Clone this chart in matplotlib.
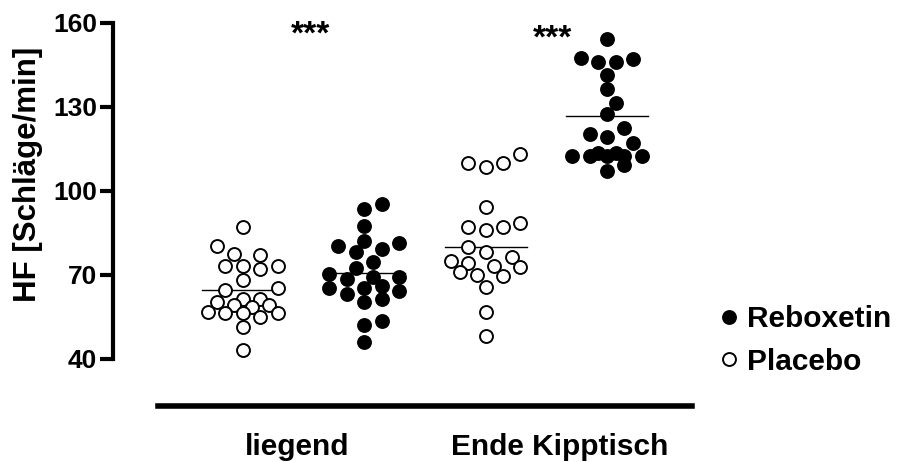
import numpy as np
import matplotlib.pyplot as plt
from matplotlib.lines import Line2D

plt.rcParams["font.family"] = ["Liberation Sans", "DejaVu Sans"]
plt.rcParams["font.weight"] = "bold"

# values (HF in beats/min)
categories = ["liegend", "Ende Kipptisch"]
series_names = ["Reboxetin", "Placebo"]

placebo_liegend = [87.3, 80.4, 77.1, 77.4, 73.2, 72.1, 73.2, 73.2, 68.2, 64.6, 65.2, 61.4,
                   61.4, 60.5, 59.3, 58.5, 59.3, 56.3, 56.9, 55.1, 56.3, 56.3, 51.3, 43.2]
reboxetin_liegend = [95.4, 93.5, 87.5, 82.1, 80.5, 81.5, 79.2, 78.3, 74.5, 70.2, 72.4, 69.2,
                     68.5, 69.2, 66.2, 65.5, 65.2, 64.4, 63.2, 61.4, 60.5, 53.7, 52.1, 46.2]
placebo_ende = [113.2, 110.1, 108.5, 110.1, 94.2, 87.0, 87.0, 88.7, 86.1, 80.1, 78.3,
                75.1, 76.5, 73.2, 70.0, 72.7, 74.2, 69.6, 71.2, 65.8, 56.9, 48.2]
reboxetin_ende = [154.2, 147.0, 146.2, 146.2, 147.4, 141.4, 136.3, 131.5, 127.4, 122.4, 119.4,
                  120.4, 117.3, 112.5, 113.5, 112.5, 112.5, 112.5, 113.5, 112.5, 109.3, 107.3]
group_means = [64.5, 70.6, 79.9, 126.9]
significance = ["***", "***"]
yticks = [40, 70, 100, 130, 160]

groups = [placebo_liegend, reboxetin_liegend, placebo_ende, reboxetin_ende]
filled = [False, True, False, True]

W, H = 901, 462
fig = plt.figure(figsize=(W / 100, H / 100), dpi=100)
ax = fig.add_axes([113 / W, 1 - 359 / H, 579 / W, 336 / H])
ax.set_xlim(-1.07, 3.70)
ax.set_ylim(40, 160)

# pixel scale, used to lay the points out as a swarm
px_x = 579 / (3.70 + 1.07)
px_y = 336 / 120.0
diam = 14.0
step = 8.7
max_k = 4


def swarm_offsets(values):
    vals = np.asarray(values, dtype=float)
    placed = []
    offs = np.zeros(len(vals))
    cands = [0.0]
    for k in range(1, max_k + 1):
        cands += [k * step, -k * step]
    for i in np.argsort(vals):
        y = vals[i] * px_y
        best, best_d = 0.0, -1.0
        for c in cands:
            d = min([np.hypot(c - qx, y - qy) for qx, qy in placed] or [1e9])
            if d >= diam:
                best = c
                break
            if d > best_d:
                best, best_d = c, d
        placed.append((best, y))
        offs[i] = best / px_x
    return offs


for pos, (vals, full) in enumerate(zip(groups, filled)):
    xs = pos + swarm_offsets(vals)
    ax.plot(xs, vals, "o", ms=9.3, mew=1.4, mec="black",
            mfc="black" if full else "white", ls="none", zorder=3, clip_on=False)
    ax.plot([pos - 0.338, pos + 0.338], [group_means[pos]] * 2, color="black", lw=1.0, zorder=2)

# significance stars over the Reboxetin groups
ax.text(0.56, 152.5, significance[0], ha="center", va="baseline", fontsize=24, clip_on=False)
ax.text(2.55, 151.3, significance[1], ha="center", va="baseline", fontsize=24, clip_on=False)

ax.spines["top"].set_visible(False)
ax.spines["right"].set_visible(False)
ax.spines["left"].set_linewidth(3)
ax.spines["bottom"].set_linewidth(4)
ax.spines["bottom"].set_position(("outward", 34))
ax.spines["bottom"].set_bounds(-0.70, 3.70)
ax.set_xticks([])
ax.set_yticks(yticks)
ax.tick_params(axis="y", length=9.5, width=3, pad=2, labelsize=19)

fig.text(297 / W, 1 - 455 / H, categories[0], ha="center", va="baseline", fontsize=21.5)
fig.text(560 / W, 1 - 455 / H, categories[1], ha="center", va="baseline", fontsize=21.5)
fig.text(28 / W, 1 - 174 / H, "HF [Schläge/min]", rotation=90, ha="center", va="center",
         fontsize=22.5)

handles = [
    Line2D([], [], marker="o", ls="none", ms=9.3, mew=1.4, mec="black", mfc="black"),
    Line2D([], [], marker="o", ls="none", ms=9.3, mew=1.4, mec="black", mfc="white"),
]
fig.legend(handles, series_names, loc="upper left", bbox_to_anchor=(720 / W, 1 - 305 / H),
           frameon=False, fontsize=21.5, handlelength=0.6, handletextpad=0.3,
           borderpad=0, borderaxespad=0, labelspacing=0.5)

fig.savefig("out.png", dpi=100)
